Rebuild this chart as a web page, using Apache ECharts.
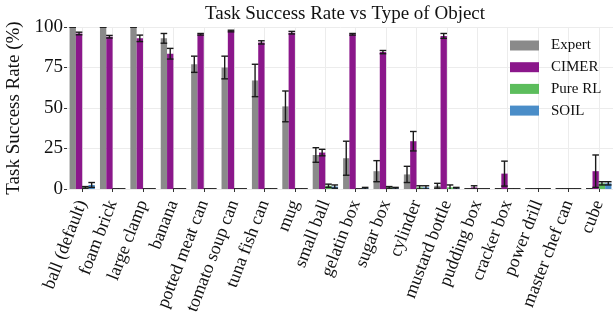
<!DOCTYPE html>
<html>
<head>
<meta charset="utf-8">
<script src="https://cdn.jsdelivr.net/npm/echarts@6/dist/echarts.min.js"></script>
<style>
  html, body { margin: 0; padding: 0; background: #fff; }
  #chart { width: 613px; height: 320px; }
</style>
</head>
<body>
<div id="chart"></div>
<script>
// Object categories
const categories = [
  'ball (default)', 'foam brick', 'large clamp', 'banana', 'potted meat can',
  'tomato soup can', 'tuna fish can', 'mug', 'small ball', 'gelatin box',
  'sugar box', 'cylinder', 'mustard bottle', 'pudding box', 'cracker box',
  'power drill', 'master chef can', 'cube'
];

// Mean success rates (%) and standard deviations per method
const expert    = [100, 100, 100, 93, 77, 75, 67, 51, 21, 19, 11, 9, 2, 0, 0, 0, 0, 0];
const expertStd = [0, 0, 0, 3, 5, 7, 10, 9.5, 4.5, 10.5, 6.5, 5, 1.5, 0, 0, 0, 0, 0];
const cimer     = [96, 94, 93, 83.5, 95.5, 97.5, 90.5, 96.5, 22.5, 95.5, 84.5, 29.5, 94.5, 1, 9.5, 0, 0, 11];
const cimerStd  = [0.8, 0.8, 2, 3.3, 0.5, 0.5, 1, 0.8, 2, 0.5, 1, 6, 1.5, 1, 7.7, 0, 0, 10];
const pureRL    = [1, 0, 0, 0, 0, 0, 0, 0, 2, 0, 1, 1, 1, 0, 0, 0, 0, 3.5];
const pureRLStd = [0.5, 0, 0, 0, 0, 0, 0, 0, 1, 0, 0.5, 1, 1.5, 0, 0, 0, 0, 1];
const soil      = [2.5, 0, 0, 0, 0, 0, 0, 0, 1.5, 0.5, 0.5, 1, 0.5, 0, 0, 0, 0, 3.5];
const soilStd   = [1.5, 0, 0, 0, 0, 0, 0, 0, 1, 0.5, 0.5, 1, 0.5, 0, 0, 0, 0, 1];

const seriesNames = ['Expert', 'CIMER', 'Pure RL', 'SOIL'];
const colors = ['#8a8a8a', '#8b178b', '#5cbd5c', '#4a8dc8'];
const means = [expert, cimer, pureRL, soil];
const stds = [expertStd, cimerStd, pureRLStd, soilStd];

const FONT = '"Liberation Serif", "DejaVu Serif", serif';
const GROUP_FRACTION = 0.83;   // share of each category band taken by the 4 bars

function barSeries(k) {
  return {
    name: seriesNames[k],
    type: 'bar',
    data: means[k],
    itemStyle: { color: colors[k] },
    barGap: '0%',
    barCategoryGap: ((1 - GROUP_FRACTION) * 100) + '%',
    z: 2
  };
}

function errorSeries(k) {
  return {
    type: 'custom',
    name: seriesNames[k] + ' err',
    data: means[k].map((v, i) => [i, v, stds[k][i]]),
    z: 5,
    silent: true,
    clip: true,
    renderItem: function (params, api) {
      const i = api.value(0), v = api.value(1), s = api.value(2);
      const band = api.size([1, 0])[0];
      const bw = band * GROUP_FRACTION / 4;
      const cx = api.coord([i, 0])[0] - band * GROUP_FRACTION / 2 + bw * (k + 0.5);
      const yHi = api.coord([i, v + s])[1];
      const yLo = api.coord([i, v - s])[1];
      const half = 3.3;
      const style = { stroke: '#1a1a1a', lineWidth: 1.4 };
      return {
        type: 'group',
        children: [
          { type: 'line', shape: { x1: cx, y1: yHi, x2: cx, y2: yLo }, style: style },
          { type: 'line', shape: { x1: cx - half, y1: yHi, x2: cx + half, y2: yHi }, style: style },
          { type: 'line', shape: { x1: cx - half, y1: yLo, x2: cx + half, y2: yLo }, style: style }
        ]
      };
    }
  };
}

const series = [];
for (let k = 0; k < 4; k++) series.push(barSeries(k));
for (let k = 0; k < 4; k++) series.push(errorSeries(k));

const chart = echarts.init(document.getElementById('chart'), null, { renderer: 'canvas' });
chart.setOption({
  animation: false,
  backgroundColor: '#fff',
  title: {
    text: 'Task Success Rate vs Type of Object',
    left: 340, top: 0, textAlign: 'center',
    textStyle: { fontFamily: FONT, fontSize: 19, fontWeight: 'normal', color: '#111' }
  },
  legend: {
    data: seriesNames,
    orient: 'vertical',
    left: 505, top: 33,
    itemWidth: 29, itemHeight: 10, itemGap: 6.7,
    icon: 'rect',
    textStyle: { fontFamily: FONT, fontSize: 15, color: '#111', lineHeight: 14, padding: [0, 0, 0, 7] }
  },
  grid: { left: 67, right: -1, top: 27, bottom: 131, containLabel: false, outerBoundsMode: 'none' },
  xAxis: {
    type: 'category',
    data: categories,
    axisLine: { show: false },
    axisTick: { show: true, alignWithLabel: true, length: 3, lineStyle: { color: '#333' } },
    splitLine: { show: true, alignWithLabel: true, lineStyle: { color: '#ececec', width: 1 } },
    axisLabel: {
      interval: 0, rotate: 69, margin: 12,
      fontFamily: FONT, fontSize: 18, color: '#111'
    }
  },
  yAxis: {
    type: 'value',
    min: 0, max: 100, interval: 25,
    name: 'Task Success Rate (%)',
    nameLocation: 'middle', nameGap: 41,
    nameTextStyle: { fontFamily: FONT, fontSize: 19, color: '#111' },
    axisLine: { show: false },
    axisTick: { show: true, length: 3, lineStyle: { color: '#333' } },
    splitLine: { show: true, lineStyle: { color: '#ececec', width: 1 } },
    axisLabel: { fontFamily: FONT, fontSize: 19, color: '#111', margin: 4 }
  },
  series: series
});
</script>
</body>
</html>
